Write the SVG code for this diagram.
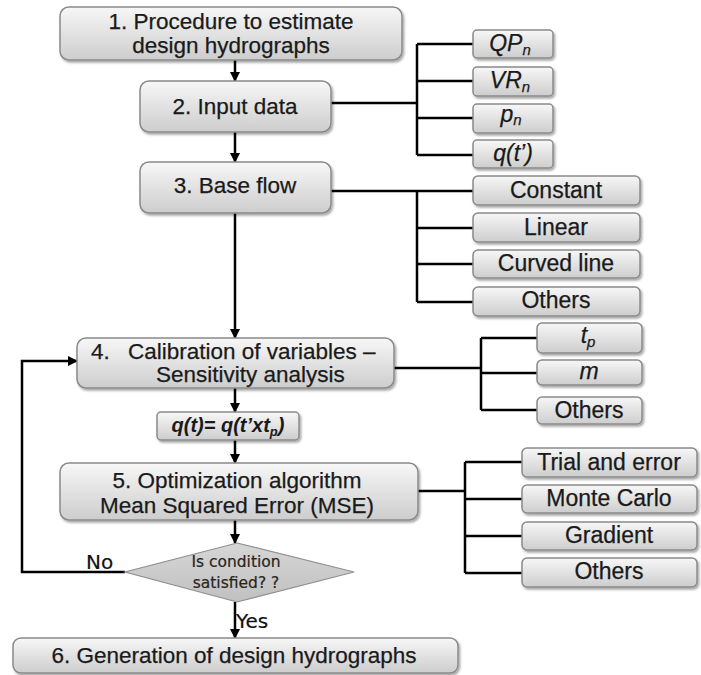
<svg xmlns="http://www.w3.org/2000/svg" width="701" height="675" viewBox="0 0 701 675">
<defs>
<linearGradient id="g" x1="0" y1="0" x2="0" y2="1">
<stop offset="0" stop-color="#f7f7f7"/>
<stop offset="1" stop-color="#cdcdcd"/>
</linearGradient>
<linearGradient id="gd" x1="0" y1="0" x2="0" y2="1">
<stop offset="0" stop-color="#d6d6d6"/>
<stop offset="1" stop-color="#c0c0c0"/>
</linearGradient>
<filter id="sh" x="-10%" y="-20%" width="120%" height="150%">
<feDropShadow dx="1.5" dy="2" stdDeviation="1.2" flood-color="#000" flood-opacity="0.35"/>
</filter>
<marker id="ar" viewBox="0 0 10 10" refX="9" refY="5" markerWidth="4" markerHeight="4" orient="auto" markerUnits="strokeWidth">
<path d="M0,0 L10,5 L0,10 z" fill="#000"/>
</marker>
</defs>
<style>
.box{fill:url(#g);stroke:#8a8a8a;stroke-width:1.5;filter:url(#sh)}
.t{font-family:"Liberation Sans",Arial,sans-serif;font-size:22.5px;fill:#1a1a1a;text-anchor:middle;stroke:#1a1a1a;stroke-width:0.25}
.s{font-family:"Liberation Sans",Arial,sans-serif;font-size:23px;fill:#1a1a1a;text-anchor:middle;stroke:#1a1a1a;stroke-width:0.25}
.i{font-style:italic}
.ln{stroke:#000;stroke-width:2.5;fill:none}
.d{font-family:"DejaVu Sans",Tahoma,sans-serif;font-size:15.5px;fill:#2a2418;text-anchor:middle;stroke:#2a2418;stroke-width:0.2}
.lbl{font-family:"DejaVu Sans",Tahoma,sans-serif;font-size:20px;fill:#111;stroke:#111;stroke-width:0.2}
</style>
<g id="connectors">
<line class="ln" x1="235" y1="60" x2="235" y2="81" marker-end="url(#ar)"/>
<line class="ln" x1="235" y1="132" x2="235" y2="162" marker-end="url(#ar)"/>
<line class="ln" x1="235" y1="213" x2="235" y2="338" marker-end="url(#ar)"/>
<line class="ln" x1="235" y1="388" x2="235" y2="412" marker-end="url(#ar)"/>
<line class="ln" x1="235" y1="440" x2="235" y2="463" marker-end="url(#ar)"/>
<line class="ln" x1="235" y1="520" x2="235" y2="543" marker-end="url(#ar)"/>
<line class="ln" x1="235" y1="602" x2="235" y2="638" marker-end="url(#ar)"/>
<path class="ln" d="M125 572 H22 V361 H77" marker-end="url(#ar)"/>
<path class="ln" d="M331 103 H417 M417 44 V155 M417 44 H473 M417 81 H473 M417 118 H473 M417 155 H473"/>
<path class="ln" d="M331 191 H473 M417 191 V302 M417 228 H473 M417 264 H473 M417 302 H473"/>
<path class="ln" d="M394 368 H481 M481 338 V410 M481 338 H537 M481 373 H537 M481 410 H537"/>
<path class="ln" d="M418 491 H465 M465 462 V573 M465 462 H522 M465 499 H522 M465 536 H522 M465 573 H522"/>
</g>
<g id="n1"><rect class="box" x="60" y="7" width="342" height="53" rx="9"/><text class="t" x="231" y="29">1.  Procedure to estimate</text><text class="t" x="231" y="53">design hydrographs</text></g>
<g id="n2"><rect class="box" x="140" y="81" width="191" height="51" rx="9"/><text class="t" x="235" y="114">2. Input data</text></g>
<g id="n3"><rect class="box" x="140" y="162" width="191" height="51" rx="9"/><text class="t" x="235" y="193">3. Base flow</text></g>
<g id="n4"><rect class="box" x="77" y="338" width="317" height="50" rx="9"/><text class="t" x="91" y="359" style="text-anchor:start">4.</text><text class="t" x="128" y="359" style="text-anchor:start">Calibration of variables –</text><text class="t" x="156" y="382" style="text-anchor:start">Sensitivity analysis</text></g>
<g id="nf"><rect class="box" x="157" y="412" width="142" height="28" rx="4"/><text class="s" x="228" y="432" style="font-weight:bold;font-style:italic;font-size:20px;stroke-width:0">q(t)= q(t’xt<tspan font-size="13" dy="4">p</tspan><tspan dy="-4">)</tspan></text></g>
<g id="n5"><rect class="box" x="60" y="463" width="358" height="57" rx="9"/><text class="t" x="237" y="488">5. Optimization algorithm</text><text class="t" x="237" y="513">Mean Squared Error (MSE)</text></g>
<g id="nd"><polygon points="237,543 354,572 237,602 125,572" fill="url(#gd)" stroke="#8f8f8f" stroke-width="1.2"/><text class="d" x="236" y="567">Is condition</text><text class="d" x="236" y="588">satisfied? ?</text></g>
<text class="lbl" x="86" y="569">No</text>
<text class="lbl" x="236" y="628">Yes</text>
<g id="n6"><rect class="box" x="13" y="638" width="445" height="35" rx="8"/><text class="t" x="234" y="663">6. Generation of design hydrographs</text></g>
<g id="qp"><rect class="box" x="473" y="30" width="80" height="28" rx="4"/><text class="s i" x="510" y="51">QP<tspan font-size="15" dy="4">n</tspan></text></g>
<g id="vr"><rect class="box" x="473" y="67" width="80" height="29" rx="4"/><text class="s i" x="510" y="88">VR<tspan font-size="15" dy="4">n</tspan></text></g>
<g id="pn"><rect class="box" x="473" y="104" width="80" height="29" rx="4"/><text class="s i" x="511" y="122">p<tspan font-size="15" dy="3">n</tspan></text></g>
<g id="qt"><rect class="box" x="473" y="140" width="80" height="28" rx="4"/><text class="s i" x="513" y="161">q(t’)</text></g>
<g id="b1"><rect class="box" x="473" y="176" width="167" height="29" rx="5"/><text class="s" x="556" y="198">Constant</text></g>
<g id="b2"><rect class="box" x="473" y="213" width="167" height="29" rx="5"/><text class="s" x="556" y="235">Linear</text></g>
<g id="b3"><rect class="box" x="473" y="250" width="167" height="28" rx="5"/><text class="s" x="556" y="271">Curved line</text></g>
<g id="b4"><rect class="box" x="473" y="287" width="167" height="29" rx="5"/><text class="s" x="556" y="308">Others</text></g>
<g id="c1"><rect class="box" x="537" y="323" width="105" height="30" rx="5"/><text class="s i" x="588" y="343">t<tspan font-size="15" dy="4">p</tspan></text></g>
<g id="c2"><rect class="box" x="537" y="360" width="105" height="25" rx="5"/><text class="s i" x="589" y="379">m</text></g>
<g id="c3"><rect class="box" x="537" y="397" width="105" height="27" rx="5"/><text class="s" x="589" y="418">Others</text></g>
<g id="o1"><rect class="box" x="522" y="448" width="175" height="29" rx="5"/><text class="s" x="609" y="470">Trial and error</text></g>
<g id="o2"><rect class="box" x="522" y="485" width="175" height="28" rx="5"/><text class="s" x="609" y="506">Monte Carlo</text></g>
<g id="o3"><rect class="box" x="522" y="522" width="175" height="28" rx="5"/><text class="s" x="609" y="543">Gradient</text></g>
<g id="o4"><rect class="box" x="522" y="558" width="175" height="29" rx="5"/><text class="s" x="609" y="579">Others</text></g>
</svg>
